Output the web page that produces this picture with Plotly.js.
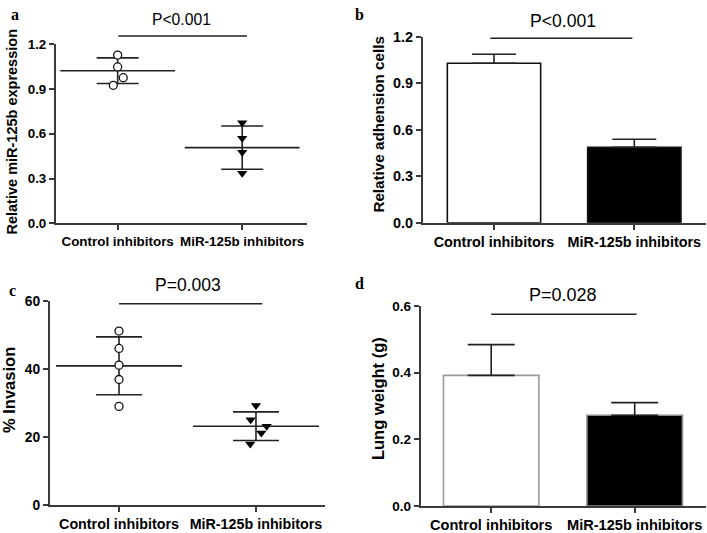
<!DOCTYPE html>
<html>
<head>
<meta charset="utf-8">
<script src="https://cdn.plot.ly/plotly-3.0.1.min.js"></script>
<style>
  html, body { margin: 0; padding: 0; background: #fff; }
  #chart { width: 707px; height: 533px; }
</style>
</head>
<body>
<div id="chart"></div>
<script>
var groups = ['Control inhibitors', 'MiR-125b inhibitors'];

// a: relative miR-125b expression (dots, mean +/- SD)
var aCtrl = [1.128, 1.048, 0.976, 0.925];
var aCtrlJitter = [0.0, 0.0, 0.045, -0.035];
var aMir = [0.674, 0.570, 0.476, 0.335];
var aMirJitter = [0, 0, 0, 0];
var aMean = [1.023, 0.507];
var aSd = [0.086, 0.145];

// b: relative adhesion cells (bars + SEM)
var bMean = [1.03, 0.487];
var bErr = [0.058, 0.052];

// c: % invasion
var cCtrl = [51.1, 46.0, 41.1, 36.9, 29.0];
var cCtrlJitter = [0, 0, 0, 0, 0];
var cMir = [29.3, 25.1, 23.2, 21.2, 18.0];
var cMirJitter = [0, -0.039, 0.078, 0.039, -0.042];
var cMean = [40.9, 23.2];
var cSd = [8.5, 4.2];

// d: lung weight
var dMean = [0.392, 0.272];
var dErr = [0.092, 0.038];

var pvals = ['P<0.001', 'P<0.001', 'P=0.003', 'P=0.028'];

var FONT = 'Liberation Sans, Arial, sans-serif';
var AXC = '#3a3a3a';

function shift(vals, base, jit) {
    var out = [];
    for (var i = 0; i < vals.length; i++) out.push(base + jit[i]);
    return out;
}

function dotTraces(xa, ya, ctrl, cj, mir, mj, mean, sd, meanW, capW) {
    var t = [];
    // SD whiskers
    t.push({
        x: [0, 1], y: mean, xaxis: xa, yaxis: ya, mode: 'markers',
        marker: { size: 1, color: 'rgba(0,0,0,0)' },
        error_y: { type: 'data', array: sd, visible: true, color: '#222', thickness: 1.6, width: capW },
        hoverinfo: 'skip'
    });
    // mean line
    t.push({
        x: [0, 1], y: mean, xaxis: xa, yaxis: ya, mode: 'markers',
        marker: { symbol: 'line-ew', size: meanW, line: { width: 1.6, color: '#222' } },
        hoverinfo: 'skip'
    });
    t.push({
        x: shift(ctrl, 0, cj), y: ctrl, xaxis: xa, yaxis: ya, mode: 'markers',
        marker: { symbol: 'circle', size: 8, color: 'white', line: { width: 1.3, color: '#111' } },
        cliponaxis: false
    });
    t.push({
        x: shift(mir, 1, mj), y: mir, xaxis: xa, yaxis: ya, mode: 'markers',
        marker: { symbol: 'triangle-down', size: 9, color: '#000', line: { width: 0 } },
        cliponaxis: false
    });
    return t;
}

function barTrace(xa, ya, vals, err, outline, capW) {
    return {
        type: 'bar', x: groups, y: vals, xaxis: xa, yaxis: ya, width: 0.665,
        marker: { color: ['#ffffff', '#000000'], line: { color: outline, width: 1.6 } },
        error_y: { type: 'data', symmetric: false, array: err, arrayminus: [0, 0],
                   visible: true, color: '#222', thickness: 1.6, width: capW }
    };
}

var data = []
    .concat(dotTraces('x', 'y', aCtrl, aCtrlJitter, aMir, aMirJitter, aMean, aSd, 82, 21))
    .concat([barTrace('x2', 'y2', bMean, bErr, ['#111', '#111'], 22)])
    .concat(dotTraces('x3', 'y3', cCtrl, cCtrlJitter, cMir, cMirJitter, cMean, cSd, 90, 23))
    .concat([barTrace('x4', 'y4', dMean, dErr, ['#9a9a9a', '#8a8a8a'], 23.5)]);

function xax(dom, range, numeric, size) {
    var ax = {
        domain: dom, range: range, anchor: null, showline: true, linecolor: AXC, linewidth: 2,
        ticks: 'outside', ticklen: 5, tickwidth: 2, tickcolor: AXC, showgrid: false, zeroline: false,
        tickfont: { family: FONT, size: size, color: '#000', weight: 'bold' }
    };
    if (numeric) { ax.tickvals = [0, 1]; ax.ticktext = groups; }
    return ax;
}
function yax(dom, range, dtick, size, fmt) {
    return {
        domain: dom, range: range, dtick: dtick, tick0: 0, showline: true, linecolor: AXC, linewidth: 2,
        ticks: 'outside', ticklen: 5, tickwidth: 2, tickcolor: AXC, showgrid: false, zeroline: false,
        tickformat: fmt, tickfont: { family: FONT, size: size, color: '#000', weight: 'bold' }
    };
}

var xa = xax([0.0792, 0.4342], [-0.495, 1.52], true, 13.4);  xa.anchor = 'y';
var xb = xax([0.5983, 0.9986], [-0.506, 1.511], false, 14.4); xb.anchor = 'y2';
var xc = xax([0.0707, 0.4597], [-0.504, 1.504], true, 14.3);  xc.anchor = 'y3';
var xd = xax([0.5951, 0.9982], [-0.491, 1.495], false, 14.6); xd.anchor = 'y4';
var ya = yax([0.5811, 0.9169], [0, 1.2], 0.3, 13.4, '.1f');  ya.anchor = 'x';
var yb = yax([0.5822, 0.9306], [0, 1.2], 0.3, 14.4, '.1f'); yb.anchor = 'x2';
var yc = yax([0.0520, 0.4358], [0, 60], 20, 13.8, 'd');   yc.anchor = 'x3';
var yd = yax([0.0507, 0.4259], [0, 0.6], 0.2, 13.5, '.1f'); yd.anchor = 'x4';

function sigLine(xr, x0, x1, y) {
    return { type: 'line', xref: xr, yref: 'paper', x0: x0, x1: x1, y0: y, y1: y,
             line: { color: '#222', width: 1.6 } };
}
function ann(xr, x, y, text, size, extra) {
    var a = { xref: xr, yref: 'paper', x: x, y: y, text: text, showarrow: false,
              xanchor: 'center', yanchor: 'middle',
              font: { family: FONT, size: size, color: '#000' } };
    for (var k in extra) a[k] = extra[k];
    return a;
}
var serif = { family: 'Liberation Serif, Times New Roman, serif', size: 16, color: '#000', weight: 'bold' };
var bold = function (s) { return { family: FONT, size: s, color: '#000', weight: 'bold' }; };

var layout = {
    width: 707, height: 533, margin: { l: 0, r: 0, t: 0, b: 0 },
    paper_bgcolor: '#fff', plot_bgcolor: '#fff', showlegend: false,
    xaxis: xa, yaxis: ya, xaxis2: xb, yaxis2: yb, xaxis3: xc, yaxis3: yc, xaxis4: xd, yaxis4: yd,
    shapes: [
        sigLine('x', 0.005, 1.038, 0.9325),
        sigLine('x2', -0.026, 0.986, 0.9281),
        sigLine('x3', 0.0, 1.046, 0.4302),
        sigLine('x4', 0.0, 1.013, 0.4103)
    ],
    annotations: [
        ann('x', 0.514, 0.9625, pvals[0], 15.7),
        ann('x2', 0.49, 0.9612, pvals[1], 17.6),
        ann('x3', 0.504, 0.4653, pvals[2], 17.5),
        ann('x4', 0.5, 0.446, pvals[3], 18),
        ann('paper', 0.017, 0.7533, 'Relative miR-125b expression', 14.5, { textangle: -90, font: bold(14.5) }),
        ann('paper', 0.5347, 0.7664, 'Relative adhension cells', 15.2, { textangle: -90, font: bold(15.2) }),
        ann('paper', 0.0127, 0.2683, '% Invasion', 16.5, { textangle: -90, font: bold(16.5) }),
        ann('paper', 0.5347, 0.2514, 'Lung weight (g)', 16.5, { textangle: -90, font: bold(16.5) }),
        ann('paper', 0.0212, 0.9737, 'a', 16, { font: serif }),
        ann('paper', 0.509, 0.9737, 'b', 16, { font: serif }),
        ann('paper', 0.017, 0.4559, 'c', 16, { font: serif }),
        ann('paper', 0.5078, 0.469, 'd', 16, { font: serif })
    ]
};

Plotly.newPlot('chart', data, layout, { staticPlot: true });
</script>
</body>
</html>
